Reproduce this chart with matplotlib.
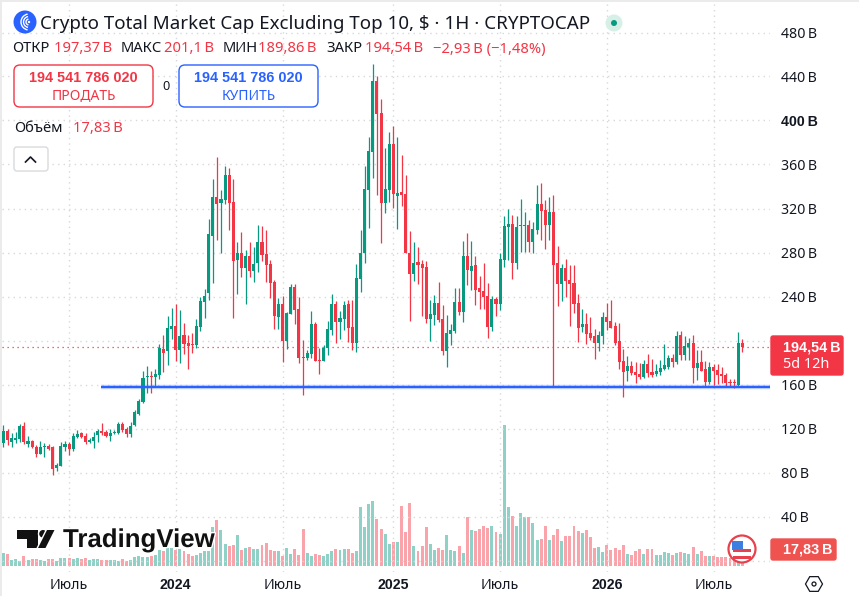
#!/usr/bin/env python3
"""TradingView style weekly candles, Crypto Total Market Cap Excluding Top 10."""
import matplotlib
matplotlib.use("Agg")
import matplotlib.pyplot as plt
import matplotlib.patheffects as pe
from matplotlib.patches import Arc, Circle, FancyBboxPatch, Polygon, Rectangle, RegularPolygon, Wedge
import numpy as np

plt.rcParams["font.family"] = ["Noto Sans", "DejaVu Sans"]
BOLD = "Liberation Sans"

# ── palette ──────────────────────────────────────────────────────────────────
GREEN = "#089981"
RED   = "#f23645"
BLUE  = "#2962ff"
INK   = "#131722"
GRID  = "#d6d8dc"
EDGE  = "#ebebeb"

# ── data (billions, one candle per week) ─────────────────────────────────────
OPEN = [
    107, 118, 108, 109.5, 110, 122, 106, 109, 103, 97,
    103, 104.5, 103.5, 84, 86, 103.5, 106, 101, 112, 115.5,
    113.5, 107.5, 109, 114, 118, 117, 113, 115.5, 116, 124,
    119.5, 115, 123, 133.5, 144.5, 167, 168, 167, 169, 192,
    190, 210.5, 213, 191.5, 205, 198, 197, 196, 212.5, 235,
    243, 295, 330.5, 325, 328, 350.5, 326, 273, 279.5, 266,
    277, 263, 270.5, 289.5, 278.5, 269.5, 253, 221.5, 233, 199.5,
    224, 248.5, 228.5, 185, 184, 188, 215, 182.5, 181.5, 193,
    209.5, 233, 216.5, 219.5, 233, 212, 198, 256, 279.5, 337,
    371.5, 436, 407, 325, 337, 378.5, 331.5, 335, 333, 279.5,
    260.5, 271.5, 269.5, 267, 219.5, 223, 234, 219.5, 190.5, 206,
    208.5, 235, 226, 277, 263, 268.5, 247.5, 245, 240.5, 212.5,
    237.5, 233, 273, 303.5, 306, 270.5, 304, 304.5, 305, 289.5,
    300.5, 324, 318.5, 305, 317, 270.5, 251.5, 266, 255, 252,
    234, 212, 215, 207, 204, 197.5, 204, 221.5, 217.5, 213,
    199.5, 181.5, 172.5, 177, 171.5, 169.5, 166.5, 178.5, 171, 169.5,
    171, 174, 175.5, 184, 180.5, 205, 186.5, 194.5, 197.5, 175,
    180.5, 174, 162, 175.5, 173, 169.5, 168.5, 162, 162, 159.5,
    197.37,
]
HIGH = [
    123, 120, 116, 117, 124, 126, 113, 109.5, 105, 108.5,
    107, 106, 104, 89, 108, 109, 108, 115.5, 118.5, 116.5,
    115.5, 111, 117, 120, 125, 119, 120, 118.5, 125.5, 126,
    121.5, 125.5, 137, 147, 172, 177, 172, 174, 197, 205,
    222, 229.5, 233, 228, 216, 205, 207, 219.5, 239.5, 247,
    310.5, 347, 367, 337, 358.5, 357, 347, 289.5, 298.5, 282,
    289.5, 285, 305, 304, 300.5, 273, 255, 238.5, 240.5, 226,
    251.5, 251.5, 239.5, 200.5, 191, 227, 217, 193, 196, 218,
    242.5, 236, 227, 236, 237, 237, 269.5, 300.5, 358.5, 385,
    451.5, 440.5, 419.5, 375, 389.5, 395, 385, 368.5, 350.5, 299.5,
    289.5, 285, 273, 272, 237, 241.5, 253, 232, 223, 215,
    247.5, 247.5, 290.5, 297.5, 290.5, 277, 258.5, 270.5, 252, 240.5,
    240, 279.5, 313, 319.5, 314, 313, 328.5, 317, 309.5, 307.5,
    341.5, 343, 327.5, 330.5, 332.5, 286, 269.5, 274, 268.5, 268.5,
    242.5, 228.5, 225, 221.5, 210.5, 208.5, 226, 234, 237, 217,
    216, 192.5, 186, 181.5, 180.5, 180, 182, 188, 183.5, 179,
    182, 197, 186.5, 187.5, 208.5, 208.5, 204, 202, 205, 191,
    191, 181, 180.5, 179, 178.5, 175.5, 170.5, 165, 165, 207.5,
    201.1,
]
LOW = [
    103.5, 105, 103.5, 106.5, 108, 106, 103.5, 102, 94, 97,
    94.5, 100.5, 78, 81, 86, 100, 96, 100, 111, 111,
    106, 106.5, 102, 108, 114, 112, 109, 115, 115, 117,
    112, 112, 122, 132, 143, 152.5, 152.5, 158, 165, 171,
    178, 201.5, 181.5, 180, 188, 174, 189, 193, 208.5, 220.5,
    237, 252, 291.5, 279.5, 324, 300.5, 220.5, 242.5, 258, 233,
    258, 253, 262, 272, 253, 238.5, 210.5, 210.5, 180.5, 192.5,
    224, 215, 180, 150.5, 182.5, 184.5, 181, 169.5, 181, 187,
    205, 197.5, 201, 210, 199, 191.5, 189.5, 244, 270.5, 302.5,
    347.5, 332.5, 288.5, 316, 326, 320.5, 301.5, 322.5, 279.5, 218,
    254, 251.5, 222.5, 216, 199.5, 214, 217, 187, 176, 196,
    207, 223, 217, 250.5, 246, 232.5, 228.5, 228.5, 202.5, 208.5,
    222.5, 228, 267, 273, 256, 265, 280.5, 280.5, 280.5, 279.5,
    297, 291.5, 283, 291.5, 158, 231.5, 236, 239.5, 213, 225,
    198.5, 207.5, 197, 200.5, 183, 190.5, 197, 209.5, 211, 196,
    174, 149, 163, 168.5, 161.5, 165, 165.5, 167, 167, 167.5,
    168.5, 173, 174.5, 176, 178.5, 182, 182, 182, 161, 164,
    172, 158.5, 160.5, 159.5, 160.5, 161, 158.5, 158.5, 157, 158.5,
    189.86,
]
CLOSE = [
    118, 109.5, 111, 111.5, 122, 108, 108.5, 103, 97, 103,
    103.5, 101.5, 83, 87, 104.5, 106, 101, 113.5, 115, 112.5,
    107.5, 109.5, 112.5, 118, 115.5, 113, 116, 117, 124, 118.5,
    115, 122.5, 135, 145, 165.5, 168, 167, 169.5, 193, 188.5,
    211, 213, 191, 204, 197, 195, 196, 213, 236, 240.5,
    297, 330.5, 324, 328.5, 350.5, 325, 272.5, 279.5, 266, 277,
    263, 269.5, 289.5, 278, 268.5, 252.5, 222, 233, 199.5, 225,
    248.5, 228, 184.5, 184.5, 188.5, 215, 181.5, 181.5, 193, 210.5,
    233, 216.5, 220.5, 232, 211.5, 198, 257, 279.5, 337.5, 372.5,
    436, 406, 325, 337.5, 378.5, 333, 334, 332.5, 279.5, 260.5,
    270.5, 268.5, 266, 219.5, 224, 234, 218.5, 190.5, 207, 209.5,
    235, 226, 277, 264, 267.5, 246, 244, 239.5, 212.5, 237.5,
    233, 274, 304, 306, 270.5, 303, 305, 305, 289.5, 301.5,
    324, 317.5, 305, 317, 268.5, 251.5, 266, 254, 251.5, 233,
    211.5, 215, 206, 202.5, 197.5, 205, 221.5, 217, 211.5, 197.5,
    180.5, 171.5, 177, 170.5, 168.5, 166.5, 178.5, 170.5, 168.5, 172,
    175, 177.5, 184, 180.5, 204, 186.5, 195, 197.5, 175, 179.5,
    172.5, 162, 175.5, 172, 168.5, 167.5, 161, 161.5, 161, 197.5,
    194.54,
]
VOLUME = [
    13.4, 12.7, 6.2, 6.9, 5.1, 10.5, 6.2, 7.2, 7.2, 6.2,
    5.1, 7.2, 7.2, 5.4, 8.3, 8.3, 8.3, 7.6, 8.3, 7.6,
    8.3, 6.5, 6.9, 6.9, 5.8, 6.2, 5.8, 5.8, 5.1, 6.9,
    5.1, 6.2, 9.8, 10.9, 9.8, 9.8, 10.5, 11.6, 17, 16.3,
    18.8, 18.8, 17, 17.7, 16.3, 12.3, 10.1, 11.6, 14.1, 16.3,
    16.3, 42.4, 49.6, 38.7, 23.5, 21.4, 22.4, 33.3, 17, 18.8,
    20.6, 18.1, 17.7, 22.4, 25, 17, 15.9, 16.3, 10.5, 19.5,
    12.7, 18.1, 11.6, 39.8, 13.8, 10.5, 12.7, 11.6, 10.5, 12.7,
    15.9, 18.1, 17, 18.1, 18.1, 13.8, 15.9, 63.7, 42, 67,
    70.2, 50.7, 39.8, 34.4, 23.5, 25.7, 25.7, 64.8, 36.6, 68.1,
    21.4, 15.9, 21.4, 42, 23.5, 17, 19.2, 17, 33.3, 17,
    15.9, 21.4, 13.8, 52.9, 38.7, 37.6, 39.8, 43.1, 40.9, 43.1,
    36.6, 34.4, 152.8, 63.7, 53.9, 43.1, 57.2, 52.9, 52.9, 46.3,
    27.9, 29, 43.1, 27.9, 33.3, 39.8, 26.8, 32.2, 32.2, 43.1,
    37.6, 35.8, 38.7, 31.5, 18.8, 19.9, 15.2, 22.4, 17, 18.8,
    17, 22.4, 12.7, 11.6, 16.3, 18.5, 12.7, 18.5, 18.5, 11.6,
    11.6, 14.8, 14.1, 11.6, 14.1, 14.8, 13.4, 12.7, 20.6, 12.7,
    16.3, 10.5, 10.5, 10.5, 9.8, 9.8, 9.8, 8, 6.2, 20,
    17.83,
]
SUPPORT = 157.7
LAST_CLOSE = 194.54

Y_TICKS = [0, 40, 80, 120, 160, 200, 240, 280, 320, 360, 400, 440, 480]
X_TICKS = [16, 42, 68, 95, 121, 147, 173]
X_LABELS = ["Июль", "2024", "Июль", "2025", "Июль", "2026", "Июль"]

TITLE = "Crypto Total Market Cap Excluding Top 10, $ · 1Н · CRYPTOCAP"
BID = "194 541 786 020"

# ── layout, all in reference pixels ──────────────────────────────────────────
W, H = 859, 596
LEFT, RIGHT, TOP, BOTTOM = 2, 770, 4, 572
rect = [LEFT / W, 1 - BOTTOM / H, (RIGHT - LEFT) / W, (BOTTOM - TOP) / H]

fig = plt.figure(figsize=(W / 100, H / 100), dpi=100, facecolor="white")

ax_vol = fig.add_axes(rect, zorder=1)
ax = fig.add_axes(rect, zorder=2)
ax.patch.set_visible(False)

xs = np.arange(len(CLOSE))
o, h, l, c = map(np.array, (OPEN, HIGH, LOW, CLOSE))
colors = np.where(c >= o, GREEN, RED)

# px = 3.4 + 4.105 * i  /  py = 560.5 - 1.1 * v
x_lim = ((LEFT - 3.4) / 4.105, (RIGHT - 3.4) / 4.105)
ax.set_xlim(x_lim)
ax.set_ylim((560.5 - BOTTOM) / 1.1, (560.5 - TOP) / 1.1)
ax_vol.set_xlim(x_lim)
ax_vol.set_ylim((565.7 - BOTTOM) * 1.087, (565.7 - TOP) * 1.087)

# volume below everything else
ax_vol.bar(xs, VOLUME, width=0.72, color=colors, alpha=0.45, linewidth=0)
ax_vol.axis("off")

# grid
ax.set_yticks(Y_TICKS)
ax.set_yticklabels([f"{v}\u2009В" if v else "" for v in Y_TICKS], fontsize=10.2, color=INK, ha="left")
ax.yaxis.tick_right()
ax.set_xticks(X_TICKS)
ax.set_xticklabels(X_LABELS, fontsize=10.2, color=INK)
ax.tick_params(axis="both", length=0)
ax.tick_params(axis="y", pad=8)
ax.tick_params(axis="x", pad=4)
ax.grid(True, color=GRID, linewidth=1, linestyle=(0, (1, 3)), zorder=0)
ax.set_axisbelow(True)
for spine in ax.spines.values():
    spine.set_visible(False)
for label in ax.get_xticklabels():
    if label.get_text().isdigit():
        label.set_fontfamily(BOLD)
        label.set_fontweight("bold")
for label in ax.get_yticklabels():
    if label.get_text().startswith("400"):
        label.set_fontfamily(BOLD)
        label.set_fontweight("bold")

# candles
ax.vlines(xs, l, h, color=colors, linewidth=0.9, zorder=3)
body_min = 0.9
body_low = np.minimum(o, c)
body_h = np.maximum(np.abs(c - o), body_min)
ax.bar(xs, body_h, bottom=body_low, width=0.75, color=colors, linewidth=0, zorder=4)

# support line + last price line
ax.plot([(101 - 3.4) / 4.105, x_lim[1]], [SUPPORT, SUPPORT], color=BLUE, alpha=0.3, linewidth=3.2,
        solid_capstyle="butt", zorder=5)
ax.plot([(101 - 3.4) / 4.105, x_lim[1]], [SUPPORT, SUPPORT], color=BLUE, linewidth=1.5,
        solid_capstyle="butt", zorder=5)
ax.axhline(LAST_CLOSE, color=RED, linewidth=0.9, linestyle=(0, (1, 3)), zorder=2)

# ── overlay in pixel coords: header, badges, watermark ───────────────────────
ov = fig.add_axes([0, 0, 1, 1], zorder=5)
ov.set_xlim(0, W)
ov.set_ylim(H, 0)
ov.axis("off")


def txt(x, y, s, size=9.2, color=INK, ha="left", bold=False, **kw):
    if bold:
        kw.update(family=BOLD, fontweight="bold")
    return ov.text(x, y, s, fontsize=size, color=color, ha=ha, va="center", **kw)


def box(x0, y0, x1, y1, edge, face="white", rad=6, lw=1.0):
    ov.add_patch(FancyBboxPatch((x0 + rad, y0 + rad), x1 - x0 - 2 * rad, y1 - y0 - 2 * rad,
                                boxstyle=f"round,pad={rad},rounding_size={rad}",
                                edgecolor=edge, facecolor=face, linewidth=lw))


# window edge
ov.add_patch(Rectangle((0, 0), 2, H, color=EDGE, linewidth=0))
ov.add_patch(Rectangle((0, 0), W, 2, color=EDGE, linewidth=0))

# symbol icon
ov.add_patch(Circle((25, 22), 11.5, color=BLUE, linewidth=0))
for r in (3, 5.5, 8):
    ov.add_patch(Arc((29, 22), 2 * r, 2 * r, angle=0, theta1=100, theta2=260, color="white", linewidth=1))
ov.add_patch(Circle((29, 22), 1.2, color="white", linewidth=0))

txt(40, 24, TITLE, size=13.5)
ov.add_patch(Circle((614, 23), 8.5, color="#d6f0e8", linewidth=0))
ov.add_patch(Circle((614, 23), 3, color=GREEN, linewidth=0))

# OHLC row
for x, s in [(12, "ОТКР"), (121, "МАКС"), (223, "МИН"), (326, "ЗАКР")]:
    txt(x, 49, s, size=10.6)
for x, s in [(54, "197,37\u2009В"), (164, "201,1\u2009В"), (258, "189,86\u2009В"), (365, "194,54\u2009В"),
             (433, "−2,93\u2009В (−1,48%)")]:
    txt(x, 49, s, size=10.6, color=RED)

# trade buttons
box(14, 65, 153, 107, RED)
box(179, 65, 318, 107, BLUE)
txt(83.5, 78, BID, size=10.4, color=RED, ha="center", bold=True)
txt(83.5, 96, "ПРОДАТЬ", size=10, color=RED, ha="center")
txt(248.5, 78, BID, size=10.4, color=BLUE, ha="center", bold=True)
txt(248.5, 96, "КУПИТЬ", size=10, color=BLUE, ha="center")
txt(166, 86, "0", size=9.2, ha="center")

txt(14, 128.5, "Объём", size=10.6)
txt(73, 128.5, "17,83\u2009В", size=10.6, color=RED)

box(14, 147, 48, 171, "#d9dadd", rad=3)
ov.plot([25.5, 30.5, 35.5], [162, 157, 162], color=INK, linewidth=1.2)

# price badges
box(771, 336, 843, 375, RED, face=RED, rad=2)
txt(783, 347, "194,54\u2009В", size=10.4, color="white", bold=True)
txt(783, 364, "5d 12h", size=10.4, color="white")
box(771, 539, 836, 560, "#ef5350", face="#ef5350", rad=2)
txt(783, 549.5, "17,83\u2009В", size=10.4, color="white", bold=True)

# watermark
halo = [pe.withStroke(linewidth=2, foreground="white")]
logo = [
    Polygon([(17, 530), (37.5, 530), (37.5, 548), (27, 548), (27, 539), (17, 539)], color="#111111", linewidth=0),
    Circle((43, 533.8), 3.8, color="#111111", linewidth=0),
    Polygon([(47, 530), (54.5, 530), (45.5, 548), (38, 548)], color="#111111", linewidth=0),
]
for part in logo:
    part.set_path_effects(halo)
    ov.add_patch(part)
txt(63, 540, "TradingView", size=18.6, color="#111111", bold=True, path_effects=halo)

# flag badge
ov.add_patch(Circle((742, 549), 13.5, facecolor="white", edgecolor="#e8414e", linewidth=1.6))
ov.add_patch(Wedge((742, 549), 10.5, 0, 180, color="white", linewidth=0))
for y0 in (549, 556):
    ov.add_patch(Rectangle((733, y0), 18, 3, color="#e8414e", linewidth=0))
ov.add_patch(Rectangle((732, 541), 11, 9, color="#3d7fe0", linewidth=0))

# settings hexagon
ov.add_patch(RegularPolygon((814, 584), 6, radius=8.5, orientation=np.pi / 6, fill=False, edgecolor=INK, linewidth=0.9))
ov.add_patch(Circle((814, 584), 2, fill=False, edgecolor=INK, linewidth=0.9))

fig.savefig("out.png", dpi=100, facecolor="white")
